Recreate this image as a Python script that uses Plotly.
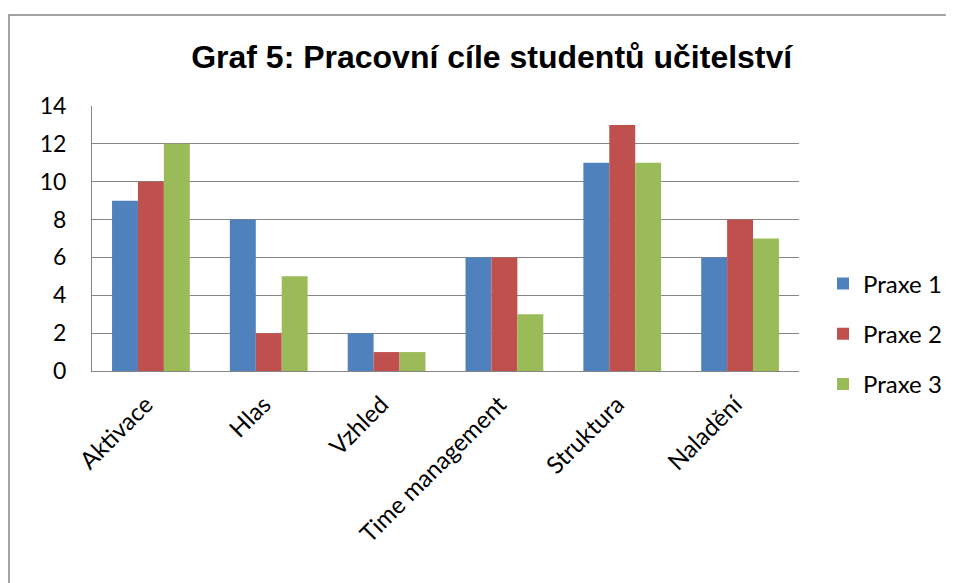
import plotly.graph_objects as go

categories = ["Aktivace", "Hlas", "Vzhled", "Time management", "Struktura", "Naladění"]
praxe1 = [9, 8, 2, 6, 11, 6]
praxe2 = [10, 2, 1, 6, 13, 8]
praxe3 = [12, 5, 1, 3, 11, 7]
series_names = ["Praxe 1", "Praxe 2", "Praxe 3"]
colors = ["#4F81BD", "#C0504D", "#9BBB59"]

fig = go.Figure()
for name, vals, col in zip(series_names, [praxe1, praxe2, praxe3], colors):
    fig.add_trace(go.Bar(name=name, x=categories, y=vals, marker_color=col,
                         marker_line_width=0, legendgroup=name))

fig.update_layout(
    width=954,
    height=583,
    barmode="group",
    bargap=0.34,
    bargroupgap=0,
    plot_bgcolor="white",
    paper_bgcolor="white",
    margin=dict(l=84, r=163, t=98, b=220),
    font=dict(family="Lato, Calibri, sans-serif", size=24, color="black"),
    title=dict(
        text="<b>Graf 5: Pracovní cíle studentů učitelství</b>",
        font=dict(family="Liberation Sans, Arial, sans-serif", size=32, color="black"),
        x=0.507, xanchor="center", y=0.916, yanchor="middle",
    ),
    legend=dict(
        x=1.034, xanchor="left", y=0.14, yanchor="middle",
        font=dict(size=24), tracegroupgap=16,
    ),
    showlegend=True,
)

fig.update_yaxes(
    range=[0, 14], dtick=2, showgrid=True, gridcolor="#868686", gridwidth=1,
    showline=True, linecolor="#868686", linewidth=1, ticks="",
    ticklabelstandoff=20, zeroline=False, tickfont=dict(size=23),
)
fig.update_xaxes(
    showline=True, linecolor="#868686", linewidth=1, tickangle=-45, ticks="",
    showgrid=False, tickfont=dict(size=24),
    ticklabelstandoff=9, ticklabelshift=-5,
)

# chart frame
fig.add_shape(type="rect", xref="paper", yref="paper",
              x0=(1 - 84) / 707, x1=1.3, y0=-1.0, y1=(363 - 7) / 265,
              line=dict(color="#868686", width=1.5), layer="below")

fig.write_html("out.html")
